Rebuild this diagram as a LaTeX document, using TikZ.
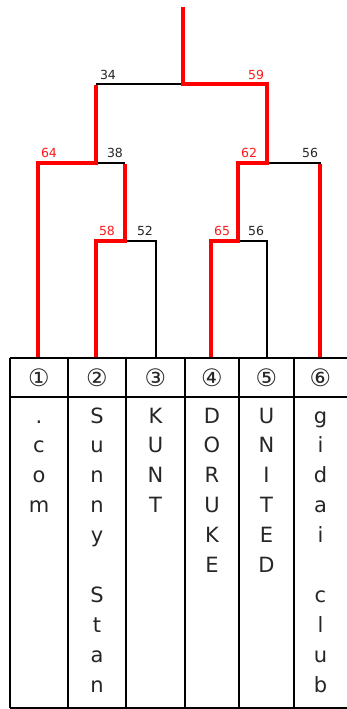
\documentclass[tikz,border=0pt]{standalone}
\usepackage{fontspec}
\setmainfont{DejaVu Sans}
\usetikzlibrary{positioning}

\tikzset{
  lose/.style={draw=black, line width=2pt},
  win/.style={draw=red, line width=4pt},
  score/.style={font=\fontsize{12.5}{14}\selectfont, text=black!85, inner sep=0pt},
  winscore/.style={score, text=red!90!white},
  cell/.style={font=\fontsize{21}{24}\selectfont, text=black!85, inner sep=0pt},
  numcell/.style={cell, font=\fontsize{24}{26}\selectfont},
}

\begin{document}
\begin{tikzpicture}[x=1pt, y=-1pt]
    \useasboundingbox (0,0) rectangle (347,709);

    % Knoten des Baums
    \coordinate (top) at (183,7);
    \coordinate (fin) at (183,84);
    \coordinate (s1) at (96,84);
    \coordinate (s2) at (267,84);
    \coordinate (s1b) at (96,163);
    \coordinate (s2b) at (267,163);
    \coordinate (q23) at (125,163);
    \coordinate (q23b) at (125,241);
    \coordinate (q45) at (238,163);
    \coordinate (q45b) at (238,241);
    \foreach \name/\x in {l1/38, l2/96, l3/156, l4/211, l5/267, l6/320}
        \coordinate (\name) at (\x,358);

    % Verlierer-Linien
    \draw[lose] (fin) -- (s1);
    \draw[lose] (s1b) -- (q23);
    \draw[lose] (q23b) -| (l3);
    \draw[lose] (q45b) -| (l5);
    \draw[lose] (s2b) -| (l6);

    % Gewinner-Linien
    \draw[win] (top) -- (fin) -| (s2b) -| (q45b) -| (l4);
    \draw[win] ([yshift=-1pt]s1) -- (s1b) -| (l1);
    \draw[win] ([yshift=-1pt]q23) -- (q23b) -| (l2);
    \draw[win] ([yshift=-1pt]l6 |- s2b) -- (l6);

    % Punkte
    \node[score] (p34) at (108,75) {34};
    \node[winscore] (p59) at (256,75) {59};
    \node[winscore] (p64) at (49,153) {64};
    \node[score] (p38) at (115,153) {38};
    \node[winscore] (p62) at (249,153) {62};
    \node[score] (p56a) at (310,153) {56};
    \node[winscore] (p58) at (107,231) {58};
    \node[score] (p52) at (145,231) {52};
    \node[winscore] (p65) at (222,231) {65};
    \node[score] (p56b) at (256,231) {56};

    % Tabelle
    \draw[lose] (10,358) -- (347,358);
    \draw[lose] (10,397) -- (347,397);
    \draw[lose] (10,708) -- (347,708);
    \foreach \x in {10,68,126,185,239,294}
        \draw[lose] (\x,358) -- (\x,708);

    % Nummern und Namen
    \foreach \cx/\num [count=\c] in {39/①, 97/②, 155.5/③, 212/④, 266.5/⑤, 320.5/⑥}
        \node[numcell] (n\c) at (\cx,378) {\num};
    \foreach \cx/\word [count=\c] in {39/{.,c,o,m}, 97/{S,u,n,n,y,{},S,t,a,n},
                                      155.5/{K,U,N,T}, 212/{D,O,R,U,K,E},
                                      266.5/{U,N,I,T,E,D}, 320.5/{g,i,d,a,i,{},c,l,u,b}} {
        \foreach \ch [count=\r] in \word
            \node[cell, anchor=base] (t\c-\r) at (\cx,{423+29.9*(\r-1)}) {\ch};
    }
\end{tikzpicture}
\end{document}
